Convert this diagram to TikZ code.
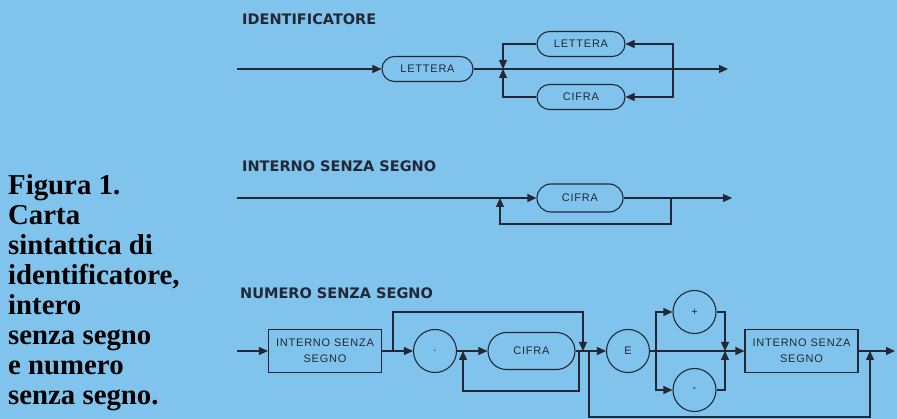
\documentclass[tikz,border=0pt]{standalone}
\usepackage{fontspec}
\setmainfont{Liberation Serif}
\newfontfamily\plotfont[LetterSpace=7]{Liberation Sans}
\newfontfamily\headfont{DejaVu Sans}
\usetikzlibrary{shapes.misc, arrows.meta, positioning}
\definecolor{paper}{RGB}{128,196,238}
\definecolor{ink}{RGB}{35,40,52}

\begin{document}
\begin{tikzpicture}[
    x=1pt, y=-1pt,
    every node/.style={text=ink},
    line/.style={draw=ink, line width=1.1pt},
    arr/.style={line, -{Triangle[length=9pt, width=8pt]}},
    pill/.style={rounded rectangle, draw=ink, line width=1.1pt, minimum width=88pt, minimum height=25pt, inner sep=0pt, font=\plotfont\fontsize{11}{13}\selectfont},
    roundel/.style={circle, draw=ink, line width=1.1pt, minimum size=43pt, inner sep=0pt, font=\plotfont\fontsize{11}{13}\selectfont},
    box/.style={rectangle, draw=ink, line width=1.1pt, minimum width=113pt, minimum height=43pt, inner sep=0pt, align=center, font=\plotfont\fontsize{11}{16}\selectfont},
    heading/.style={anchor=base west, inner sep=0pt, font=\headfont\bfseries\fontsize{14.5}{16}\selectfont},
]

% ── Page ──
\fill[paper] (0,0) rectangle (897,419);
\useasboundingbox (0,0) rectangle (897,419);

% ── Caption ──
\node[anchor=north west, inner sep=0pt, align=left, text=black, font=\bfseries\fontsize{28.8}{30}\selectfont] (caption) at (8,174)
    {Figura 1.\\Carta\\sintattica di\\identificatore,\\intero\\senza segno\\e numero\\senza segno.};

% ── Identificatore ──
\node[heading] (idhead) at (242,25) {IDENTIFICATORE};
\coordinate (id-in) at (237,69);
\node[pill, minimum width=91pt] (id-lett) at (427.5,69) {LETTERA};
\node[pill] (id-lett2) at (581,44) {LETTERA};
\node[pill] (id-cifra) at (581,97) {CIFRA};
\coordinate (id-jl) at (503,69);
\coordinate (id-jr) at (673,69);
\coordinate (id-out) at (728,69);

\draw[arr] (id-in) -- (id-lett);
\draw[arr] (id-lett.east) -- (id-out);
\draw[arr] (id-jr) |- (id-lett2.east);
\draw[arr] (id-jr) |- (id-cifra.east);
\draw[arr] (id-lett2.west) -| (id-jl);
\draw[arr] (id-cifra.west) -| (id-jl);

% ── Intero senza segno ──
\node[heading] (inthead) at (242,172) {INTERNO SENZA SEGNO};
\coordinate (int-in) at (237,198);
\node[pill, minimum width=86pt, minimum height=28pt] (int-cifra) at (580,198) {CIFRA};
\coordinate (int-jl) at (500,198);
\coordinate (int-jr) at (671,198);
\coordinate (int-back) at (671,224);
\coordinate (int-out) at (732,198);

\draw[arr] (int-in) -- (int-cifra);
\draw[arr] (int-cifra.east) -- (int-out);
\draw[arr] (int-jr) -- (int-back) -| (int-jl);

% ── Numero senza segno ──
\node[heading] (numhead) at (240,299) {NUMERO SENZA SEGNO};
\coordinate (num-in) at (237,351);
\node[box] (num-int) at (325,351) {INTERNO SENZA\\SEGNO};
\node[roundel] (num-dot) at (435,351) {.};
\node[pill, minimum width=87pt, minimum height=37pt] (num-cifra) at (531.5,351) {CIFRA};
\node[roundel] (num-e) at (628,351) {E};
\node[roundel] (num-plus) at (694.5,312) {+};
\node[roundel] (num-minus) at (694.5,390) {-};
\node[box] (num-int2) at (801.5,351) {INTERNO SENZA\\SEGNO};
\coordinate (num-out) at (895,351);

\coordinate (num-j1) at (393,351);
\coordinate (num-skip) at (393,312);
\coordinate (num-j3) at (583,351);
\coordinate (num-j2) at (463,351);
\coordinate (num-j4) at (579,351);
\coordinate (num-loop) at (579,391);
\coordinate (num-j5) at (589,351);
\coordinate (num-low) at (589,417);
\coordinate (num-j7) at (870,351);
\coordinate (num-j6) at (656,351);
\coordinate (num-j8) at (725,351);

\draw[arr] (num-in) -- (num-int);
\draw[arr] (num-int.east) -- (num-dot);
\draw[arr] (num-dot.east) -- (num-cifra);
\draw[arr] (num-cifra.east) -- (num-e);
\draw[arr] (num-e.east) -- (num-int2);
\draw[arr] (num-int2.east) -- (num-out);
\draw[arr] (num-j1) -- (num-skip) -| (num-j3);
\draw[arr] (num-j4) -- (num-loop) -| (num-j2);
\draw[arr] (num-j5) -- (num-low) -| (num-j7);
\draw[arr] (num-j6) |- (num-plus.west);
\draw[arr] (num-j6) |- (num-minus.west);
\draw[arr] (num-plus.east) -| (num-j8);
\draw[arr] (num-minus.east) -| (num-j8);

\end{tikzpicture}
\end{document}
